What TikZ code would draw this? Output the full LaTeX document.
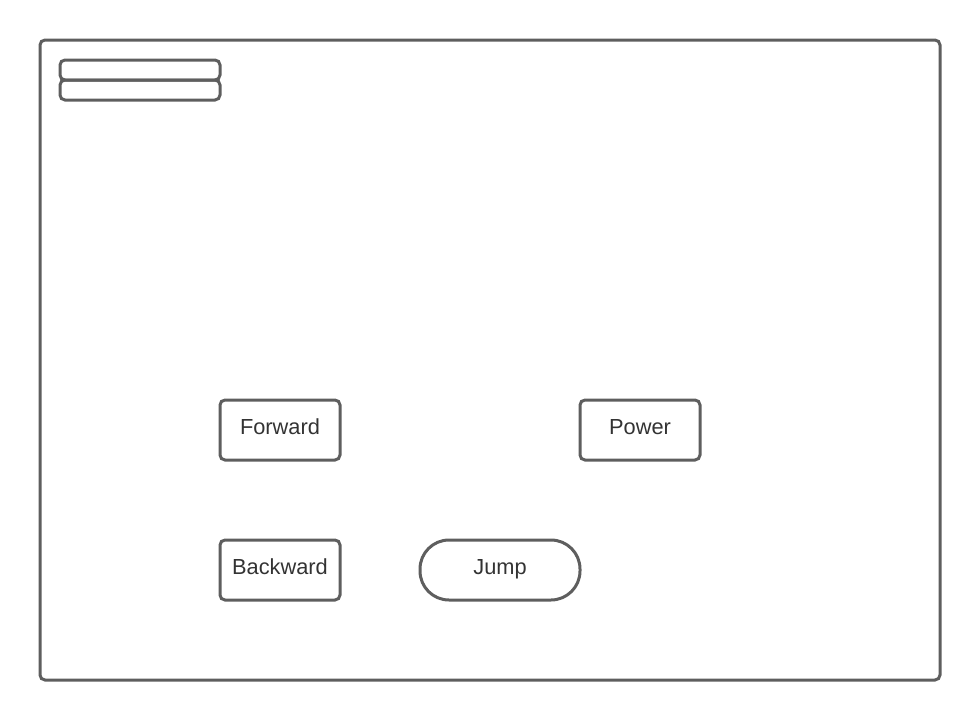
\documentclass[tikz,border=0pt]{standalone}
\usepackage{fontspec}
\setmainfont{Liberation Sans}
\definecolor{edge}{HTML}{5E5E5E}
\definecolor{txt}{HTML}{333333}
\begin{document}
\begin{tikzpicture}[x=1pt,y=-1pt,
  box/.style={draw=edge,line width=3pt,rounded corners=5pt,minimum width=120pt,minimum height=60pt,inner sep=0pt,text=txt,font=\fontsize{21.8}{26}\selectfont,text height=15pt,text depth=6pt},
  pill/.style={box,rounded corners=29pt,minimum width=160pt},
  bar/.style={draw=edge,line width=3pt,rounded corners=5pt,minimum width=160pt,minimum height=20pt,inner sep=0pt}]
\useasboundingbox (0,0) rectangle (980,720);
\node[draw=edge,line width=3pt,rounded corners=5pt,minimum width=900pt,minimum height=640pt,inner sep=0pt] (frame) at (490,360) {};
\node[bar] (bar1) at (140,70) {};
\node[bar] (bar2) at (140,90) {};
\node[box] (forward) at (280,430) {Forward};
\node[box] (power) at (640,430) {Power};
\node[box] (backward) at (280,570) {Backward};
\node[pill] (jump) at (500,570) {Jump};
\end{tikzpicture}
\end{document}
